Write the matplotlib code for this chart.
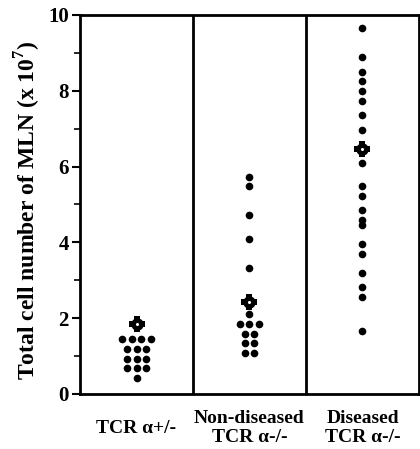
import numpy as np
import matplotlib
matplotlib.use('Agg')
import matplotlib.pyplot as plt

# group labels
groups = ['TCR \u03b1+/-', 'Non-diseased\nTCR \u03b1-/-', 'Diseased\nTCR \u03b1-/-']

# individual values (x 10^7)
vals_het = [1.44, 1.44, 1.44, 1.44, 1.18, 1.18, 1.18, 0.92, 0.92, 0.92,
            0.68, 0.68, 0.68, 0.42]
vals_nondis = [5.73, 5.49, 4.72, 4.09, 3.33, 2.10, 1.84, 1.84, 1.84,
               1.58, 1.58, 1.34, 1.34, 1.09, 1.09]
vals_dis = [9.67, 8.90, 8.50, 8.26, 8.00, 7.74, 7.35, 6.97, 6.09, 5.49,
            5.22, 4.85, 4.59, 4.46, 3.95, 3.69, 3.19, 2.81, 2.57, 1.67]
# mean markers
means = [1.84, 2.44, 6.46]

all_vals = [vals_het, vals_nondis, vals_dis]

plt.rcParams['font.family'] = ['Liberation Serif', 'DejaVu Serif']
plt.rcParams['font.weight'] = 'bold'
plt.rcParams['mathtext.fontset'] = 'custom'
plt.rcParams['mathtext.bf'] = 'Liberation Serif:bold'

fig = plt.figure(figsize=(4.2, 4.49), dpi=100)
ax = fig.add_axes([0.1905, 0.1225, 0.807, 0.8441])

step = 0.084
for i, v in enumerate(all_vals):
    v = np.array(v)
    xs = np.zeros(len(v))
    for u in np.unique(v):
        idx = np.where(v == u)[0]
        k = len(idx)
        xs[idx] = (np.arange(k) - (k - 1) / 2) * step
    ax.plot(i + 0.5 + xs, v, 'o', color='black', markersize=5.5, markeredgewidth=0)
    # mean: rounded cross with white centre
    ax.plot(i + 0.5, means[i], 'P', color='black', markersize=11.5, markeredgewidth=0)
    ax.plot(i + 0.5, means[i], 'o', color='black', markersize=9, markeredgewidth=0)
    ax.plot(i + 0.5, means[i], 'o', color='white', markersize=2.2, markeredgewidth=0)

for xd in [1, 2]:
    ax.axvline(xd, color='black', linewidth=2)

ax.set_xlim(0, 3)
ax.set_ylim(0, 10)
ax.set_yticks([0, 2, 4, 6, 8, 10])
ax.set_yticks([1, 3, 5, 7, 9], minor=True)
ax.set_xticks([0.5, 1.5, 2.5])
ax.set_xticklabels(groups, fontsize=14, fontweight='bold', linespacing=1.15)
ax.tick_params(axis='x', length=0)
ax.tick_params(axis='y', which='major', length=6, width=1.5, direction='out', labelsize=15, pad=2)
ax.tick_params(axis='y', which='minor', length=4, width=1.2, direction='out')
for lab in ax.get_xticklabels():
    lab.set_verticalalignment('center')
    lab.set_y(-0.078)
for s in ax.spines.values():
    s.set_linewidth(2)
ax.set_ylabel('Total cell number of MLN (x 10$^\\mathbf{7}$)', fontsize=17, fontweight='bold')
ax.yaxis.set_label_coords(-0.11, 0.485)

fig.savefig('out.png', dpi=100)
